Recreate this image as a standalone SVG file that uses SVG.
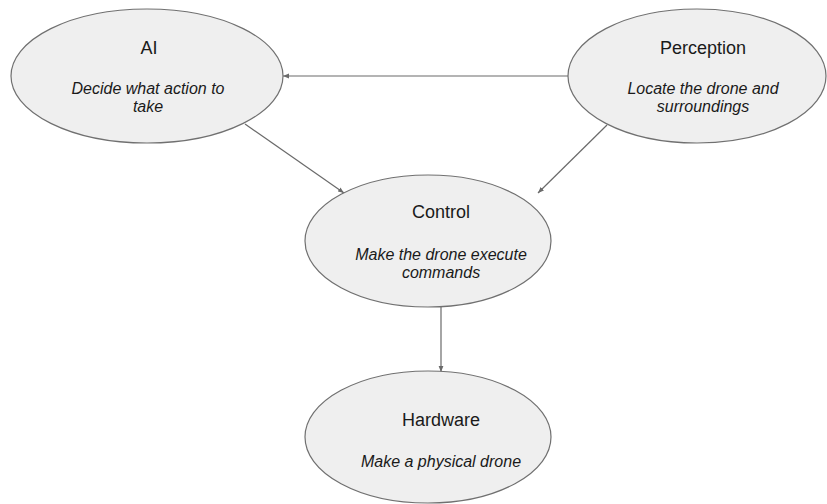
<svg xmlns="http://www.w3.org/2000/svg" width="827" height="504" viewBox="0 0 827 504">
<style>
.node ellipse{fill:#efefef;stroke:#707070;stroke-width:1.2}
.title{font-family:"Liberation Sans",Arial,sans-serif;font-size:18px;fill:#1a1a1a;text-anchor:middle}
.sub{font-family:"Liberation Sans",Arial,sans-serif;font-size:16px;font-style:italic;fill:#1a1a1a;text-anchor:middle}
.edges line{stroke:#6a6a6a;stroke-width:1.2;marker-end:url(#arr)}
</style>
<defs>
<marker id="arr" viewBox="0 0 10 10" refX="10" refY="5" markerWidth="6" markerHeight="6" orient="auto" markerUnits="userSpaceOnUse">
<path d="M0,1 L10,5 L0,9 z" fill="#6a6a6a"/>
</marker>
</defs>
<rect width="827" height="504" fill="#ffffff"/>
<g class="edges">
<line x1="568" y1="76" x2="283" y2="76"/>
<line x1="245" y1="124" x2="344" y2="193"/>
<line x1="607" y1="125" x2="538" y2="193"/>
<line x1="441" y1="307" x2="441" y2="372"/>
</g>
<g id="ai" class="node">
<ellipse cx="147" cy="76" rx="136" ry="67"/>
<text class="title" x="149" y="54">AI</text>
<text class="sub" x="148" y="94">Decide what action to</text>
<text class="sub" x="148" y="112">take</text>
</g>
<g id="perception" class="node">
<ellipse cx="697" cy="76" rx="129" ry="67"/>
<text class="title" x="703" y="54">Perception</text>
<text class="sub" x="703" y="94">Locate the drone and</text>
<text class="sub" x="703" y="112">surroundings</text>
</g>
<g id="control" class="node">
<ellipse cx="428" cy="241" rx="123" ry="66"/>
<text class="title" x="441" y="218">Control</text>
<text class="sub" x="441" y="260">Make the drone execute</text>
<text class="sub" x="441" y="278">commands</text>
</g>
<g id="hardware" class="node">
<ellipse cx="428" cy="437" rx="123" ry="66"/>
<text class="title" x="441" y="426">Hardware</text>
<text class="sub" x="441" y="467">Make a physical drone</text>
</g>
</svg>
